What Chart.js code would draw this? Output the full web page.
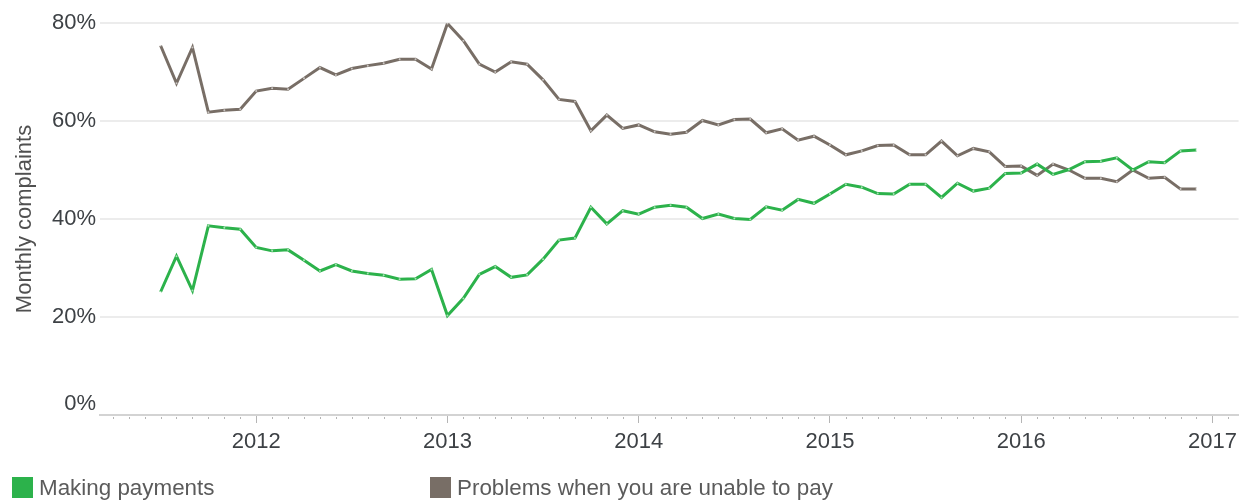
<!DOCTYPE html>
<html>
<head>
<meta charset="utf-8">
<script src="https://cdn.jsdelivr.net/npm/chart.js@4/dist/chart.umd.min.js"></script>
<style>
  body { margin: 0; background: #fff; font-family: "Liberation Sans", Arial, sans-serif; }
  #wrap { position: relative; width: 1243px; height: 500px; }
  .leg { position: absolute; top: 476px; font-size: 22.4px; color: #5b5b5b; line-height: 24px; white-space: nowrap; }
  .leg span { display: inline-block; width: 21px; height: 21px; vertical-align: -3px; margin-right: 6px; }
</style>
</head>
<body>
<div id="wrap">
  <canvas id="lineChart" width="1243" height="500"></canvas>
  <div class="leg" style="left:12px"><span style="background:#2cb24b"></span>Making payments</div>
  <div class="leg" style="left:430px"><span style="background:#786e66"></span>Problems when you are unable to pay</div>
</div>
<script>
// first month of data: July 2011
const startYear = 2011;
const startMonth = 7;

const yearTicks = [2012, 2013, 2014, 2015, 2016, 2017];
const percentTicks = [0, 20, 40, 60, 80];

// monthly share of complaints (%), Jul 2011 - Dec 2016
const makingPayments = [
    25.1, 32.4, 25.4, 38.6, 38.2, 37.9,
    34.2, 33.5, 33.7, 31.6, 29.4, 30.7, 29.4, 28.9, 28.5, 27.7, 27.8, 29.7,
    20.3, 23.8, 28.7, 30.3, 28.1, 28.6, 31.8, 35.7, 36.1, 42.4, 39.0, 41.7,
    41.0, 42.4, 42.8, 42.4, 40.1, 41.0, 40.1, 39.9, 42.5, 41.8, 44.0, 43.2,
    45.1, 47.1, 46.5, 45.2, 45.1, 47.1, 47.1, 44.4, 47.3, 45.7, 46.3, 49.3,
    49.4, 51.2, 49.1, 50.1, 51.7, 51.8, 52.5, 50.0, 51.7, 51.5, 53.9, 54.1
];
const unableToPay = [
    75.4, 67.7, 75.0, 61.8, 62.2, 62.4,
    66.1, 66.7, 66.5, 68.7, 70.9, 69.4, 70.7, 71.3, 71.8, 72.6, 72.6, 70.6,
    79.9, 76.4, 71.6, 70.0, 72.1, 71.6, 68.4, 64.4, 64.0, 58.0, 61.2, 58.5,
    59.2, 57.8, 57.3, 57.7, 60.1, 59.2, 60.3, 60.4, 57.6, 58.4, 56.1, 56.9,
    55.1, 53.1, 53.9, 55.0, 55.1, 53.1, 53.1, 55.9, 52.9, 54.4, 53.7, 50.7,
    50.8, 48.9, 51.2, 50.0, 48.3, 48.3, 47.6, 50.0, 48.3, 48.5, 46.1, 46.1
];

// x value = months since Jan 2012
const offset = (startYear - 2012) * 12 + (startMonth - 1);
function toPoints(arr) {
    return arr.map((v, i) => ({ x: offset + i, y: v }));
}

// small monthly tick dots + shifted 0% label
const extras = {
    id: 'extras',
    afterDraw(chart) {
        const ctx = chart.ctx;
        const xs = chart.scales.x;
        const ys = chart.scales.y;
        const bottom = chart.chartArea.bottom;
        ctx.save();
        ctx.fillStyle = '#b5b5b5';
        for (let m = Math.ceil(xs.min); m <= xs.max; m++) {
            if (m % 12 === 0) continue;
            ctx.fillRect(Math.round(xs.getPixelForValue(m)), bottom + 2, 1, 2);
        }
        ctx.fillStyle = '#3d4145';
        ctx.font = '22px "Liberation Sans", Arial, sans-serif';
        ctx.textAlign = 'right';
        ctx.textBaseline = 'middle';
        ctx.fillText('0%', ys.left + ys.width - 4, ys.getPixelForValue(0) - 11);
        ctx.restore();
    }
};

const lineChart = new Chart(document.getElementById('lineChart'), {
    type: 'line',
    data: {
        datasets: [{
            label: 'Making payments',
            data: toPoints(makingPayments),
            borderColor: '#2cb24b',
            borderWidth: 3,
            pointRadius: 1,
            pointBorderWidth: 0,
            pointBackgroundColor: 'rgba(255,255,255,0.6)',
            tension: 0
        }, {
            label: 'Problems when you are unable to pay',
            data: toPoints(unableToPay),
            borderColor: '#786e66',
            borderWidth: 3,
            pointRadius: 1,
            pointBorderWidth: 0,
            pointBackgroundColor: 'rgba(255,255,255,0.6)',
            tension: 0
        }]
    },
    plugins: [extras],
    options: {
        responsive: false,
        animation: false,
        layout: { padding: { top: 23, right: 0, bottom: 0, left: 0 } },
        plugins: {
            legend: { display: false },
            tooltip: { enabled: false }
        },
        scales: {
            x: {
                type: 'linear',
                min: -9.8,
                max: 61.64,
                afterFit(scale) { scale.height = 85; },
                afterBuildTicks(scale) {
                    scale.ticks = yearTicks.map(y => ({ value: (y - 2012) * 12 }));
                },
                ticks: {
                    autoSkip: false,
                    maxRotation: 0,
                    padding: 6,
                    color: '#3d4145',
                    font: { family: '"Liberation Sans", Arial, sans-serif', size: 22 },
                    callback: v => String(2012 + v / 12)
                },
                grid: {
                    drawOnChartArea: false,
                    tickLength: 8,
                    tickColor: '#b5b5b5',
                    tickWidth: 1
                },
                border: { color: '#d3d3d3', width: 2 }
            },
            y: {
                min: 0,
                max: 80,
                afterFit(scale) { scale.width = 100; },
                afterBuildTicks(scale) {
                    scale.ticks = percentTicks.map(v => ({ value: v }));
                },
                title: {
                    display: true,
                    text: 'Monthly complaints',
                    color: '#505050',
                    padding: { top: 12, bottom: 0 },
                    font: { family: '"Liberation Sans", Arial, sans-serif', size: 22 }
                },
                ticks: {
                    padding: 4,
                    color: '#3d4145',
                    font: { family: '"Liberation Sans", Arial, sans-serif', size: 22 },
                    callback: v => v === 0 ? '' : v + '%'
                },
                grid: {
                    drawTicks: false,
                    color: ctx => ctx.tick && ctx.tick.value === 0 ? 'rgba(0,0,0,0)' : '#ececec',
                    lineWidth: 2
                },
                border: { display: false }
            }
        }
    }
});
</script>
</body>
</html>
